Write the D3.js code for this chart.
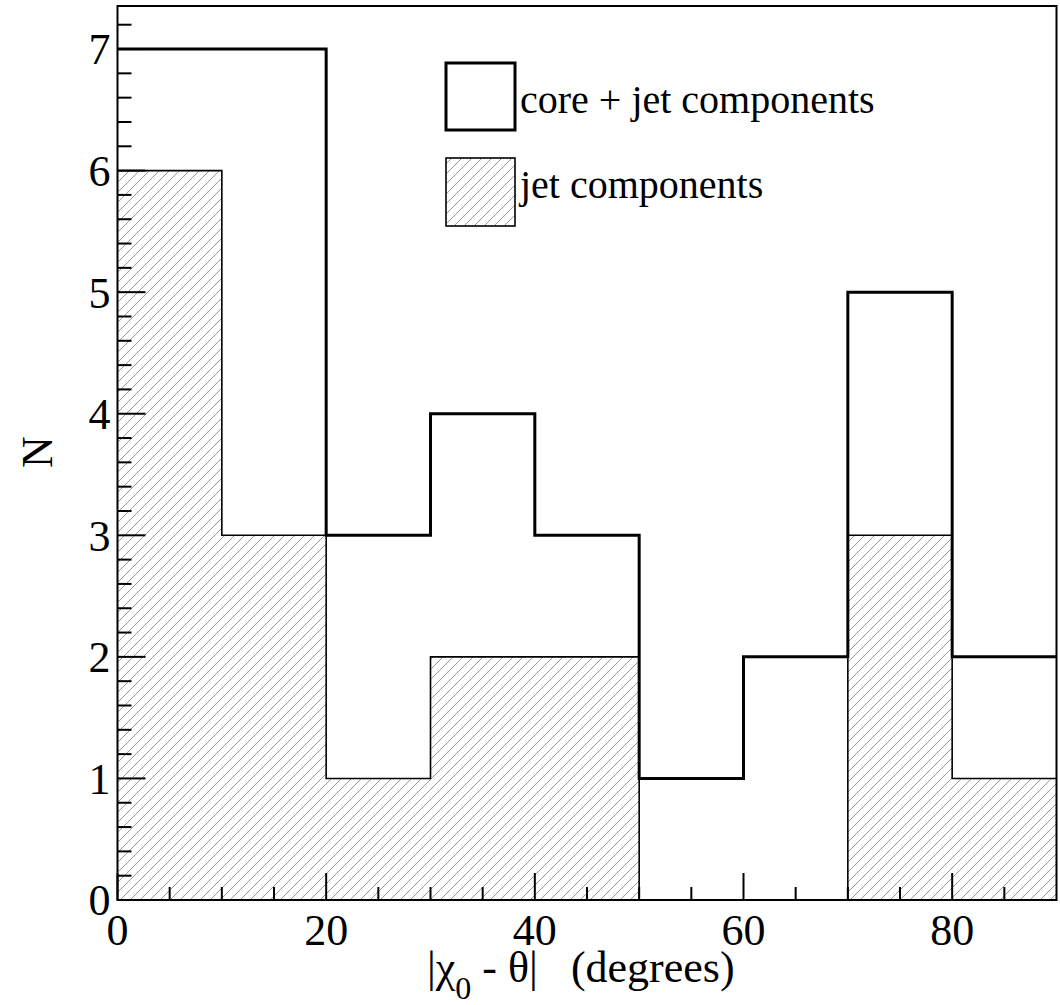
<!DOCTYPE html>
<html>
<head>
<meta charset="utf-8">
<script src="https://cdn.jsdelivr.net/npm/d3@7"></script>
<style>
  @font-face { font-family: "ChartSerif"; src: local("Liberation Serif"), local("LiberationSerif-Regular"), local("Times New Roman"); }
  body { margin:0; background:#fff; }
  text { font-family: "ChartSerif", "Liberation Serif", "Times New Roman", serif; }
</style>
</head>
<body>
<script>
// bin edges (degrees) and counts per bin
var binEdges = [0, 10, 20, 30, 40, 50, 60, 70, 80, 90];
var coreJet = [7, 7, 3, 4, 3, 1, 2, 5, 2];
var jetOnly = [6, 3, 1, 2, 2, 0, 0, 3, 1];
var xTickLabels = [0, 20, 40, 60, 80];
var yTickLabels = [0, 1, 2, 3, 4, 5, 6, 7];
var legendLabels = ["core + jet components", "jet components"];

var W = 1060, H = 1005;
var margin = {top: 6, left: 117.5, right: 3.5, bottom: 105};
var fam = "ChartSerif, Liberation Serif, Tinos, Times New Roman, Times, serif";

var svg = d3.select("body").append("svg")
    .attr("width", W).attr("height", H)
    .attr("font-family", fam);

// style kept inside the svg too
svg.append("style").text("text { font-family: 'Liberation Serif', 'Times New Roman', serif; }");

var x = d3.scaleLinear().domain([0, 90]).range([margin.left, W - margin.right]);
var y = d3.scaleLinear().domain([0, 7.354]).range([H - margin.bottom, margin.top]);

// hatch pattern
var defs = svg.append("defs");
var pat = defs.append("pattern")
    .attr("id", "hatch")
    .attr("patternUnits", "userSpaceOnUse")
    .attr("width", 10).attr("height", 10);
pat.append("path")
    .attr("d", "M-2,2 L2,-2 M0,10 L10,0 M8,12 L12,8")
    .attr("stroke", "#9a9a9a").attr("stroke-width", 1);

// turn bins into step points
function steps(vals) {
    var pts = [];
    vals.forEach(function(v, i) {
        pts.push([binEdges[i], v]);
        pts.push([binEdges[i + 1], v]);
    });
    return pts;
}

var line = d3.line().x(function(d) { return x(d[0]); }).y(function(d) { return y(d[1]); });
var area = d3.area()
    .x(function(d) { return x(d[0]); })
    .y0(y(0))
    .y1(function(d) { return y(d[1]); });

// jet components: hatched
var jetPts = steps(jetOnly);
svg.append("path")
    .attr("d", area(jetPts))
    .attr("fill", "url(#hatch)");
svg.append("path")
    .attr("d", line(jetPts))
    .attr("fill", "none")
    .attr("stroke", "#000")
    .attr("stroke-width", 1.6);

// core + jet: thick outline
svg.append("path")
    .attr("d", line(steps(coreJet)))
    .attr("fill", "none")
    .attr("stroke", "#000")
    .attr("stroke-width", 3);

// frame
svg.append("rect")
    .attr("x", x(0)).attr("y", y(7.354))
    .attr("width", x(90) - x(0)).attr("height", y(0) - y(7.354))
    .attr("fill", "none").attr("stroke", "#000").attr("stroke-width", 2);

// ticks (pointing inward)
var yMinor = d3.range(0, 7.3, 0.2);
svg.selectAll(".ytick").data(yMinor).enter().append("line")
    .attr("x1", x(0))
    .attr("x2", function(d) { return x(0) + (Math.abs(d - Math.round(d)) < 1e-6 ? 28 : 14); })
    .attr("y1", function(d) { return y(d); })
    .attr("y2", function(d) { return y(d); })
    .attr("stroke", "#000").attr("stroke-width", 2);

var xMinor = d3.range(0, 90, 5);
svg.selectAll(".xtick").data(xMinor).enter().append("line")
    .attr("x1", function(d) { return x(d); })
    .attr("x2", function(d) { return x(d); })
    .attr("y1", y(0))
    .attr("y2", function(d) { return y(0) - (d % 20 === 0 ? 27 : 13); })
    .attr("stroke", "#000").attr("stroke-width", 2);

// tick labels
svg.selectAll(".ylab").data(yTickLabels).enter().append("text")
    .attr("x", x(0) - 7)
    .attr("y", function(d) { return y(d); })
    .attr("dy", "0.35em")
    .attr("text-anchor", "end")
    .attr("font-size", 44)
    .text(function(d) { return d; });

svg.selectAll(".xlab").data(xTickLabels).enter().append("text")
    .attr("x", function(d) { return x(d); })
    .attr("y", 945)
    .attr("text-anchor", "middle")
    .attr("font-size", 44)
    .text(function(d) { return d; });

// axis titles
var xt = svg.append("text")
    .attr("x", 427).attr("y", 982)
    .attr("font-size", 44);
xt.append("tspan").text("|\u03C7");
xt.append("tspan").attr("dy", 17).attr("font-size", 32).text("0");
xt.append("tspan").attr("dy", -17).text(" - \u03B8|\u00A0\u00A0\u00A0(degrees)");

svg.append("text")
    .attr("transform", "translate(52,452) rotate(-90)")
    .attr("text-anchor", "middle")
    .attr("font-size", 44)
    .text("N");

// legend
var leg = svg.append("g");
leg.append("rect")
    .attr("x", 446).attr("y", 63).attr("width", 69).attr("height", 67)
    .attr("fill", "#fff").attr("stroke", "#000").attr("stroke-width", 3);
leg.append("rect")
    .attr("x", 446).attr("y", 158).attr("width", 69).attr("height", 68)
    .attr("fill", "url(#hatch)").attr("stroke", "#000").attr("stroke-width", 1.6);
leg.append("text").attr("x", 520).attr("y", 113)
    .attr("font-size", 40).text(legendLabels[0]);
leg.append("text").attr("x", 520).attr("y", 198)
    .attr("font-size", 40).text(legendLabels[1]);
</script>
</body>
</html>
